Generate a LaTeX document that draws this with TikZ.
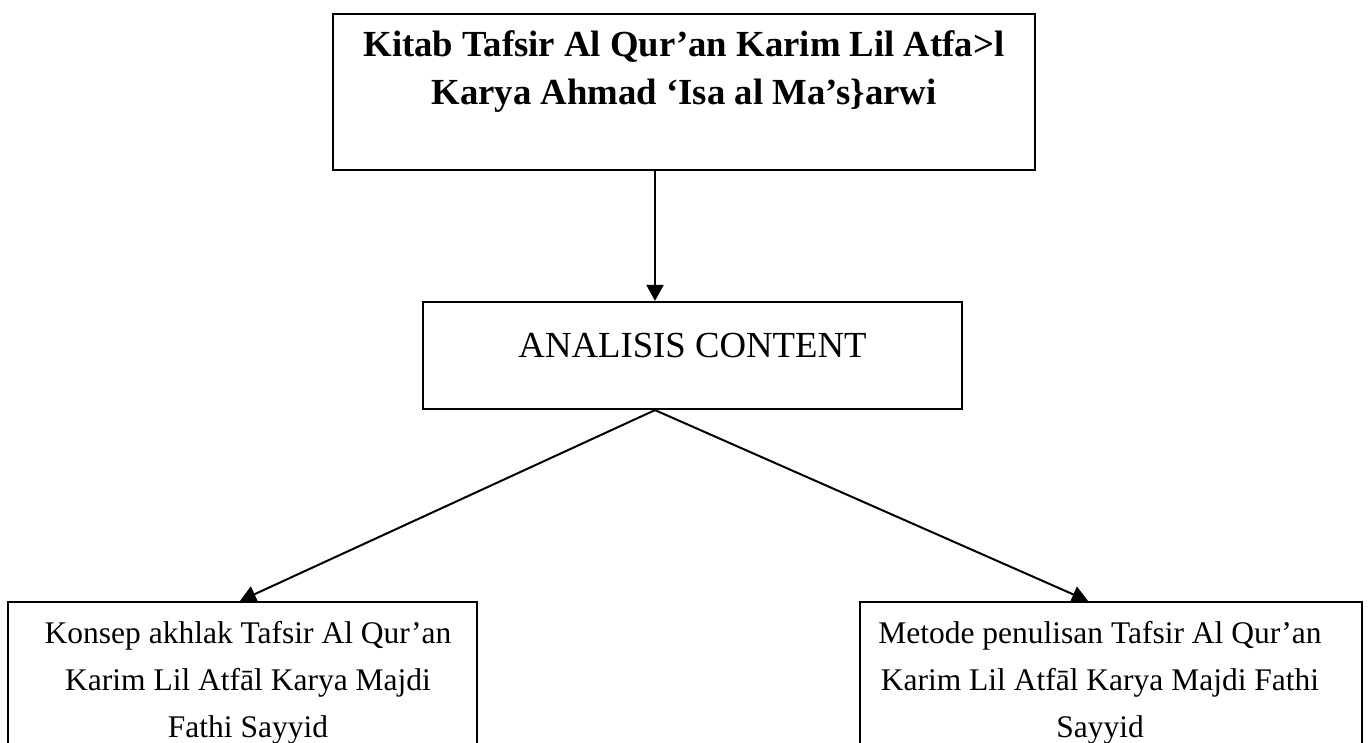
\documentclass[tikz,border=0pt]{standalone}
\usepackage{fontspec}
\setmainfont{Liberation Serif}
\usetikzlibrary{arrows.meta}
\tikzset{
  box/.style={draw=black, line width=2.2pt, inner sep=0pt, fill=white},
  arr/.style={draw=black, line width=2pt, -{Triangle[length=16pt,width=17pt]}},
  toptxt/.style={anchor=base, inner sep=0pt, font=\fontsize{36.75}{44}\selectfont\bfseries},
  midtxt/.style={anchor=base, inner sep=0pt, font=\fontsize{36.75}{44}\selectfont},
  bottxt/.style={anchor=base, inner sep=0pt, font=\fontsize{31.5}{38}\selectfont}
}
\begin{document}
\begin{tikzpicture}[x=1pt,y=-1pt]
\useasboundingbox (0,0) rectangle (1372,743);
\clip (0,0) rectangle (1372,743);
\fill[white] (0,0) rectangle (1372,743);
% boxes
\node[box, minimum width=702pt, minimum height=156pt] (top) at (684,92) {};
\node[box, minimum width=539pt, minimum height=107pt] (mid) at (692.5,355.5) {};
\node[box, minimum width=469pt, minimum height=170pt] (left) at (242.5,687) {};
\node[box, minimum width=502pt, minimum height=170pt] (right) at (1111,687) {};
% texts
\node[toptxt] (t1) at (684,57) {Kitab Tafsir Al Qur’an Karim Lil Atfa>l};
\node[toptxt] (t2) at (684,105) {Karya Ahmad ‘Isa al Ma’s\}arwi};
\node[midtxt] (m1) at (692.5,357) {ANALISIS CONTENT};
\node[bottxt] (l1) at (248,643) {Konsep akhlak Tafsir Al Qur’an};
\node[bottxt] (l2) at (248,690) {Karim Lil Atfāl Karya Majdi};
\node[bottxt] (l3) at (248,737) {Fathi Sayyid};
\node[bottxt] (r1) at (1100,643) {Metode penulisan Tafsir Al Qur’an};
\node[bottxt] (r2) at (1100,690) {Karim Lil Atfāl Karya Majdi Fathi};
\node[bottxt] (r3) at (1100,737) {Sayyid};
% connectors
\draw[arr] ([xshift=-29pt]top.south) -- ([xshift=-37.5pt]mid.north);
\draw[arr] ([xshift=-37.5pt]mid.south) -- ([xshift=-2.5pt]left.north);
\draw[arr] ([xshift=-37.5pt]mid.south) -- ([xshift=-23pt]right.north);
\end{tikzpicture}
\end{document}
